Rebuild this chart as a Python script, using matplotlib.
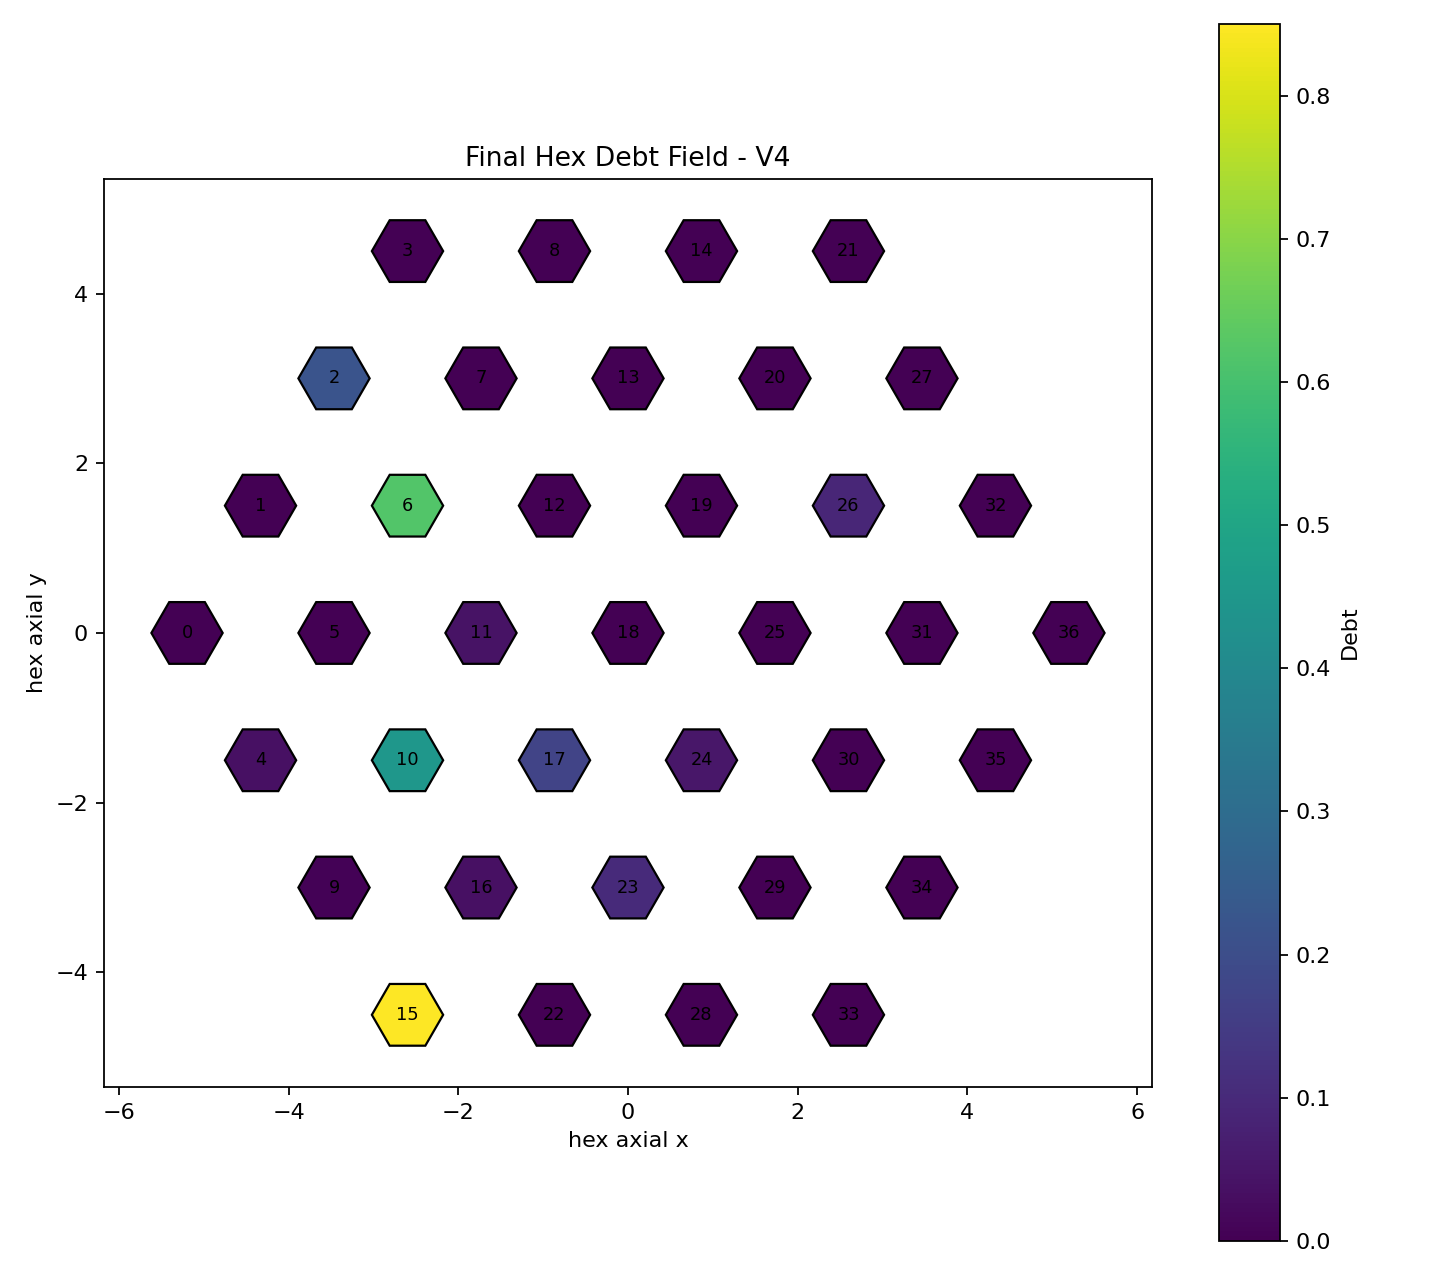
import numpy as np
import matplotlib
matplotlib.use("Agg")
import matplotlib.pyplot as plt
from matplotlib.patches import RegularPolygon
from matplotlib.cm import ScalarMappable
from matplotlib.colors import Normalize

# hex grid of radius 3, axial coords (q, r), ordered q then r
RADIUS = 3
qs = []
rs = []
for q in range(-RADIUS, RADIUS + 1):
    for r in range(max(-RADIUS, -q - RADIUS), min(RADIUS, -q + RADIUS) + 1):
        qs.append(q)
        rs.append(r)

# final debt per cell (index = cell id)
debt = [0.00, 0.00, 0.22, 0.00, 0.035, 0.00, 0.62, 0.00, 0.00, 0.005,
        0.45, 0.04, 0.00, 0.00, 0.00, 0.85, 0.035, 0.17, 0.00, 0.00,
        0.00, 0.00, 0.00, 0.10, 0.05, 0.00, 0.09, 0.00, 0.00, 0.00,
        0.00, 0.00, 0.00, 0.00, 0.00, 0.00, 0.00]

hex_size = 0.42

fig = plt.figure(figsize=(9, 8), dpi=160)
ax = fig.add_axes([0.0715, 0.1508, 0.7292, 0.7094])
cax = fig.add_axes([0.8465, 0.0305, 0.0424, 0.9508])

norm = Normalize(vmin=min(debt), vmax=max(debt))
cmap = plt.cm.viridis

for i, (q, r) in enumerate(zip(qs, rs)):
    x = np.sqrt(3) * (q + r / 2.0)
    y = 1.5 * r
    hexagon = RegularPolygon((x, y), numVertices=6, radius=hex_size,
                             orientation=np.radians(30),
                             facecolor=cmap(norm(debt[i])), edgecolor='k')
    ax.add_patch(hexagon)
    ax.text(x, y, str(i), ha='center', va='center', fontsize=8)

ax.autoscale_view()
ax.set_aspect('equal')
ax.set_xlabel('hex axial x')
ax.set_ylabel('hex axial y')
ax.set_title('Final Hex Debt Field - V4')

sm = ScalarMappable(norm=norm, cmap=cmap)
sm.set_array([])
cbar = fig.colorbar(sm, cax=cax)
cbar.set_label('Debt')

plt.savefig('out.png', dpi=160)
plt.close()
